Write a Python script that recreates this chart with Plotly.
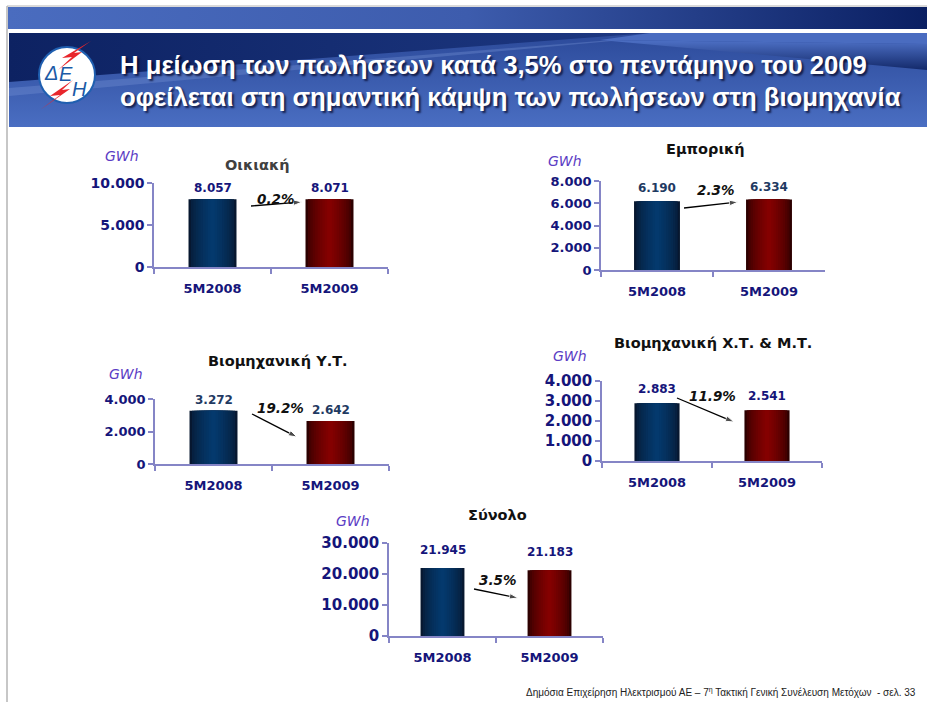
import plotly.graph_objects as go

# ---------------- data ----------------
categories = ["5M2008", "5M2009"]
oikiaki = [8057, 8071]
emporiki = [6190, 6334]
viomichaniki_yt = [3272, 2642]
viomichaniki_xt_mt = [2883, 2541]
synolo = [21945, 21183]
series = [oikiaki, emporiki, viomichaniki_yt, viomichaniki_xt_mt, synolo]
chart_titles = ["Οικιακή", "Εμπορική", "Βιομηχανική Υ.Τ.", "Βιομηχανική Χ.Τ. & Μ.Τ.", "Σύνολο"]
changes = ["0.2%", "2.3%", "19.2%", "11.9%", "3.5%"]
y_max = [10000, 8000, 4000, 4000, 30000]
y_dtick = [5000, 2000, 2000, 1000, 10000]
unit = "GWh"
title_lines = ["Η μείωση των πωλήσεων κατά 3,5% στο πεντάμηνο του 2009",
               "οφείλεται στη σημαντική κάμψη των πωλήσεων στη βιομηχανία"]
footer = "Δημόσια Επιχείρηση Ηλεκτρισμού ΑΕ – 7<sup>η</sup> Τακτική Γενική Συνέλευση Μετόχων  - σελ. 33"

# ---------------- layout / style ----------------
W, H = 927, 702
NAVY = "#15157a"
AXIS = "#8585c6"
BOLD = "DejaVu Sans"

# plot boxes in pixels: x0, x1, ytop, ybottom
boxes = [(154, 388, 183, 267), (601, 825, 181, 270), (155, 389, 399, 464),
         (602, 822, 381, 461), (389, 603, 543, 636)]
tick_sizes = [14, 13, 13, 15, 15]
value_colors = [NAVY, "#1f3a62", "#1f3a62", NAVY, NAVY]
value_shift = [11, 13, 11, 14, 18]
title_pos = [(257, 165), (705, 149), (278, 361), (713, 343), (497, 515)]
title_colors = ["#404040", "#111111", "#111111", "#111111", "#111111"]
unit_pos = [(122, 156), (565, 161), (126, 374), (570, 356), (353, 521)]
pct_pos = [(275, 199), (715, 190), (280, 408), (712, 396), (497, 580)]
arrows = [((251, 206), (302, 202)), ((684, 208), (738, 202)), ((252, 414), (297, 437)),
          ((677, 398), (734, 422)), ((474, 589), (518, 598))]


def hex2rgb(h):
    h = h.lstrip("#")
    return tuple(int(h[i:i + 2], 16) for i in (0, 2, 4))


def mix(c1, c2, f):
    a, b = hex2rgb(c1), hex2rgb(c2)
    return "rgb(%d,%d,%d)" % tuple(round(a[i] + (b[i] - a[i]) * f) for i in range(3))


fig = go.Figure()


def poly(xs, ys, color=None, gradient=None):
    tr = go.Scatter(x=xs + [xs[0]], y=ys + [ys[0]], xaxis="x", yaxis="y", mode="lines",
                    line=dict(width=0), fill="toself", hoverinfo="skip", showlegend=False)
    if gradient is not None:
        tr.fillgradient = gradient
    else:
        tr.fillcolor = color
    fig.add_trace(tr)


# ---- header decoration (background pixel axis) ----
poly([8, 927, 927, 8], [7, 7, 29, 29],
     gradient=dict(type="horizontal", start=8, stop=927,
                   colorscale=[[0, "#4a6cbf"], [0.5, "#3d5cad"], [1, "#0a1f62"]]))
poly([9, 927, 927, 9], [33, 33, 127, 127],
     gradient=dict(type="vertical", start=33, stop=127,
                   colorscale=[[0, "#2c4a9a"], [1, "#4a6ec2"]]))
poly([9, 700, 9], [88, 33, 96], color="rgba(120,150,215,0.35)")
poly([9, 650, 9], [33, 33, 82],
     gradient=dict(type="horizontal", start=9, stop=650,
                   colorscale=[[0, "#0d2262"], [1, "#1d3882"]]))
poly([650, 927, 927, 600], [33, 33, 44, 40], color="#4a6cc0")
poly([600, 927, 927], [40, 44, 70],
     gradient=dict(type="vertical", start=42, stop=70,
                   colorscale=[[0, "#4a6cc0"], [1, "#13296a"]]))

# ---- bars (layered to imitate the cylinder gradient) ----
N = 10
blue_edge, blue_center = "#07172f", "#04396d"
red_edge, red_center = "#2c0000", "#840000"
for i, vals in enumerate(series):
    k = i + 2
    for j in range(N):
        f = (j / (N - 1)) ** 0.6
        fig.add_trace(go.Bar(
            x=categories, y=vals, width=0.41 * (1 - j / N),
            marker=dict(color=[mix(blue_edge, blue_center, f), mix(red_edge, red_center, f)],
                        line=dict(width=0)),
            xaxis="x%d" % k, yaxis="y%d" % k, hoverinfo="skip", showlegend=False))

# ---- change arrows (drawn as line + arrow marker in pixel space) ----
for (tail, head) in arrows:
    fig.add_trace(go.Scatter(
        x=[tail[0], head[0]], y=[tail[1], head[1]], xaxis="x", yaxis="y",
        mode="lines+markers", line=dict(color="black", width=1.3),
        marker=dict(symbol="arrow", size=[0, 9], angleref="previous", color="black"),
        hoverinfo="skip", showlegend=False))

layout = dict(
    width=W, height=H, margin=dict(l=0, r=0, t=0, b=0, pad=0, autoexpand=False),
    paper_bgcolor="white", plot_bgcolor="rgba(0,0,0,0)",
    separators=",.", barmode="overlay", showlegend=False, hovermode=False,
    xaxis=dict(domain=[0, 1], range=[0, W], visible=False, fixedrange=True, automargin=False),
    yaxis=dict(domain=[0, 1], range=[H, 0], visible=False, fixedrange=True, automargin=False),
)

annotations = []
shapes = []

for i, vals in enumerate(series):
    k = i + 2
    x0, x1, yt, yb = boxes[i]
    layout["xaxis%d" % k] = dict(
        domain=[x0 / W, x1 / W], anchor="y%d" % k, type="category",
        categoryorder="array", categoryarray=categories, range=[-0.5, 1.5],
        showline=True, linecolor=AXIS, linewidth=1.5, ticks="outside", tickson="boundaries",
        ticklen=5, tickcolor=AXIS, tickwidth=1.5, showgrid=False, zeroline=False,
        tickfont=dict(family=BOLD, size=13, color=NAVY, weight="bold"),
        ticklabelstandoff=9, fixedrange=True, automargin=False)
    layout["yaxis%d" % k] = dict(
        domain=[1 - yb / H, 1 - yt / H], anchor="x%d" % k, range=[0, y_max[i]],
        tick0=0, dtick=y_dtick[i], tickformat=",d",
        showline=True, linecolor=AXIS, linewidth=1.5, ticks="outside", ticklen=5,
        tickcolor=AXIS, tickwidth=1.5, showgrid=False, zeroline=False,
        tickfont=dict(family=BOLD, size=tick_sizes[i], color=NAVY, weight="bold"),
        fixedrange=True, automargin=False)
    # value labels
    for c, v in zip(categories, vals):
        annotations.append(dict(
            x=c, y=v, xref="x%d" % k, yref="y%d" % k, yshift=value_shift[i],
            text=f"{v:,}".replace(",", "."), showarrow=False, yanchor="middle",
            font=dict(family=BOLD, size=12, color=value_colors[i], weight="bold")))
    # chart title
    tx, ty = title_pos[i]
    annotations.append(dict(x=tx, y=ty, xref="x", yref="y", text=chart_titles[i], showarrow=False,
                            font=dict(family=BOLD, size=14.5, color=title_colors[i], weight="bold")))
    # unit
    ux, uy = unit_pos[i]
    annotations.append(dict(x=ux, y=uy, xref="x", yref="y", text=unit, showarrow=False,
                            font=dict(family="DejaVu Sans", size=14, color="#5b3cc4", style="italic")))
    # percent change
    px_, py_ = pct_pos[i]
    annotations.append(dict(x=px_, y=py_, xref="x", yref="y", text=changes[i], showarrow=False,
                            font=dict(family=BOLD, size=13.5, color="#111111", weight="bold",
                                      style="italic")))

# ---- header text ----
for line, yy in zip(title_lines, [65, 97]):
    annotations.append(dict(x=118, y=yy, xref="x", yref="y", xanchor="left", text="<b>%s</b>" % line,
                            showarrow=False,
                            font=dict(family="Liberation Sans", size=25.7, color="white",
                                      shadow="2px 2px 2px rgba(0,0,30,0.7)")))

# ---- logo ----
shapes.append(dict(type="circle", xref="x", yref="y", x0=39, x1=95, y0=47, y1=103,
                   fillcolor="white", line=dict(color="#1f5fb0", width=2), layer="above"))
for ch, lx, ly in [("Δ", 51, 73), ("Ε", 66, 74), ("Η", 79, 89)]:
    annotations.append(dict(x=lx, y=ly, xref="x", yref="y", text=ch, showarrow=False,
                            font=dict(family="Liberation Sans", size=20, color="#1b5aa6",
                                      style="italic")))
shapes.append(dict(type="path", xref="x", yref="y", layer="above", fillcolor="#e8262c",
                   line=dict(width=0),
                   path="M 91 41 L 62 58 L 72 57 L 58 70 L 82 52 L 74 53 Z"))
shapes.append(dict(type="path", xref="x", yref="y", layer="above", fillcolor="#e8262c",
                   line=dict(width=0),
                   path="M 73 80 L 50 96 L 60 95 L 40 110 L 70 89 L 62 90 Z"))

# ---- frame lines ----
shapes.append(dict(type="line", xref="x", yref="y", x0=7, x1=927, y0=6, y1=6,
                   line=dict(color="#b4b4b4", width=1), layer="above"))
shapes.append(dict(type="line", xref="x", yref="y", x0=7, x1=7, y0=6, y1=702,
                   line=dict(color="#b4b4b4", width=1.5), layer="above"))

# ---- footer ----
annotations.append(dict(x=918, y=692, xref="x", yref="y", xanchor="right", text=footer,
                        showarrow=False, font=dict(family="Liberation Sans", size=10, color="#222222")))

layout["annotations"] = annotations
layout["shapes"] = shapes
fig.update_layout(**layout)

fig.write_html("out.html", config={"displayModeBar": False},
               post_script="document.body.style.margin='0px';")
